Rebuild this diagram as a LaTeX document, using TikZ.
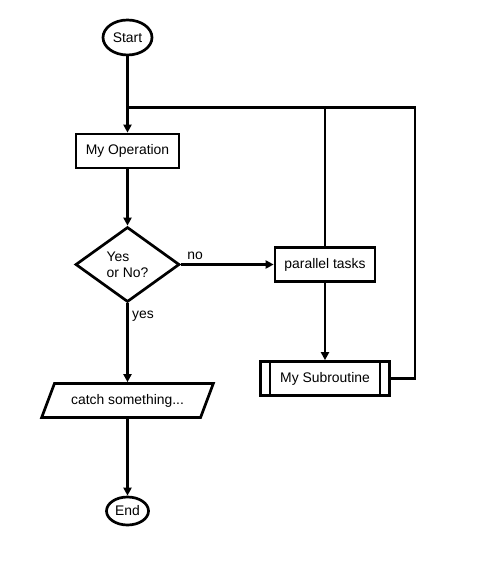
\documentclass[tikz,border=0pt]{standalone}
\usepackage{fontspec}
\setmainfont{Liberation Sans}
\usetikzlibrary{shapes.geometric,arrows.meta}

\begin{document}
\begin{tikzpicture}[x=1pt,y=-1pt,->,>={Triangle[length=8pt,width=8pt]},line width=2.7pt]
  \tikzstyle{every node}=[font=\fontsize{13.9pt}{15.8pt}\selectfont]
  \tikzstyle{terminal}=[ellipse,draw,fill=white,inner sep=0pt]
  \tikzstyle{process}=[rectangle,draw,fill=white,minimum height=34pt,inner sep=2pt]
  \tikzstyle{decision}=[diamond,draw,fill=white,aspect=1.4,inner sep=1pt,minimum width=104pt,minimum height=75pt,align=left]
  \tikzstyle{io}=[trapezium,draw,fill=white,trapezium left angle=62,trapezium right angle=118,trapezium stretches=true,minimum width=172pt,minimum height=34pt]
  \tikzstyle{label}=[inner sep=1pt]
  \useasboundingbox (0,0) rectangle (476,561);

  \node[terminal, minimum width=49pt, minimum height=35pt] (F_start) at (127.5,37.5) {Start};
  \node[process, minimum width=103pt] (F_op) at (127.5,151) {My Operation};
  \node[decision] (F_dec) at (127.5,264.5) {Yes\\or No?};
  \node[process, minimum width=100pt] (F_par) at (325,264.5) {parallel tasks};
  \node[process, minimum width=129pt] (F_sub) at (325,378.5) {My Subroutine};
  \node[io] (F_catch) at (127.5,400.5) {catch something...};
  \node[terminal, minimum width=42pt, minimum height=28pt] (F_end) at (127.5,511) {End};
  \node[label] (L_no) at (195,256) {no};
  \node[label] (L_yes) at (143,316) {yes};
  \coordinate (F_j1) at (127.5,107.7);
  \coordinate (F_j2) at (415,107.7);

  \draw (F_start) -- (F_op);
  \draw (F_op) -- (F_dec);
  \draw (F_dec) -- (F_par);
  \draw (F_dec) -- (F_catch);
  \draw (F_catch) -- (F_end);
  \draw (F_par) -- (F_sub);
  \draw[-] (F_sub.east) -| (F_j2) -- (F_j1);
  \draw[-] (F_par.north) -- (F_par.north |- F_j1);
  \draw[-,line width=2.2pt] ([xshift=11pt]F_sub.north west) -- ([xshift=11pt]F_sub.south west);
  \draw[-,line width=2.2pt] ([xshift=-11pt]F_sub.north east) -- ([xshift=-11pt]F_sub.south east);
\end{tikzpicture}
\end{document}
